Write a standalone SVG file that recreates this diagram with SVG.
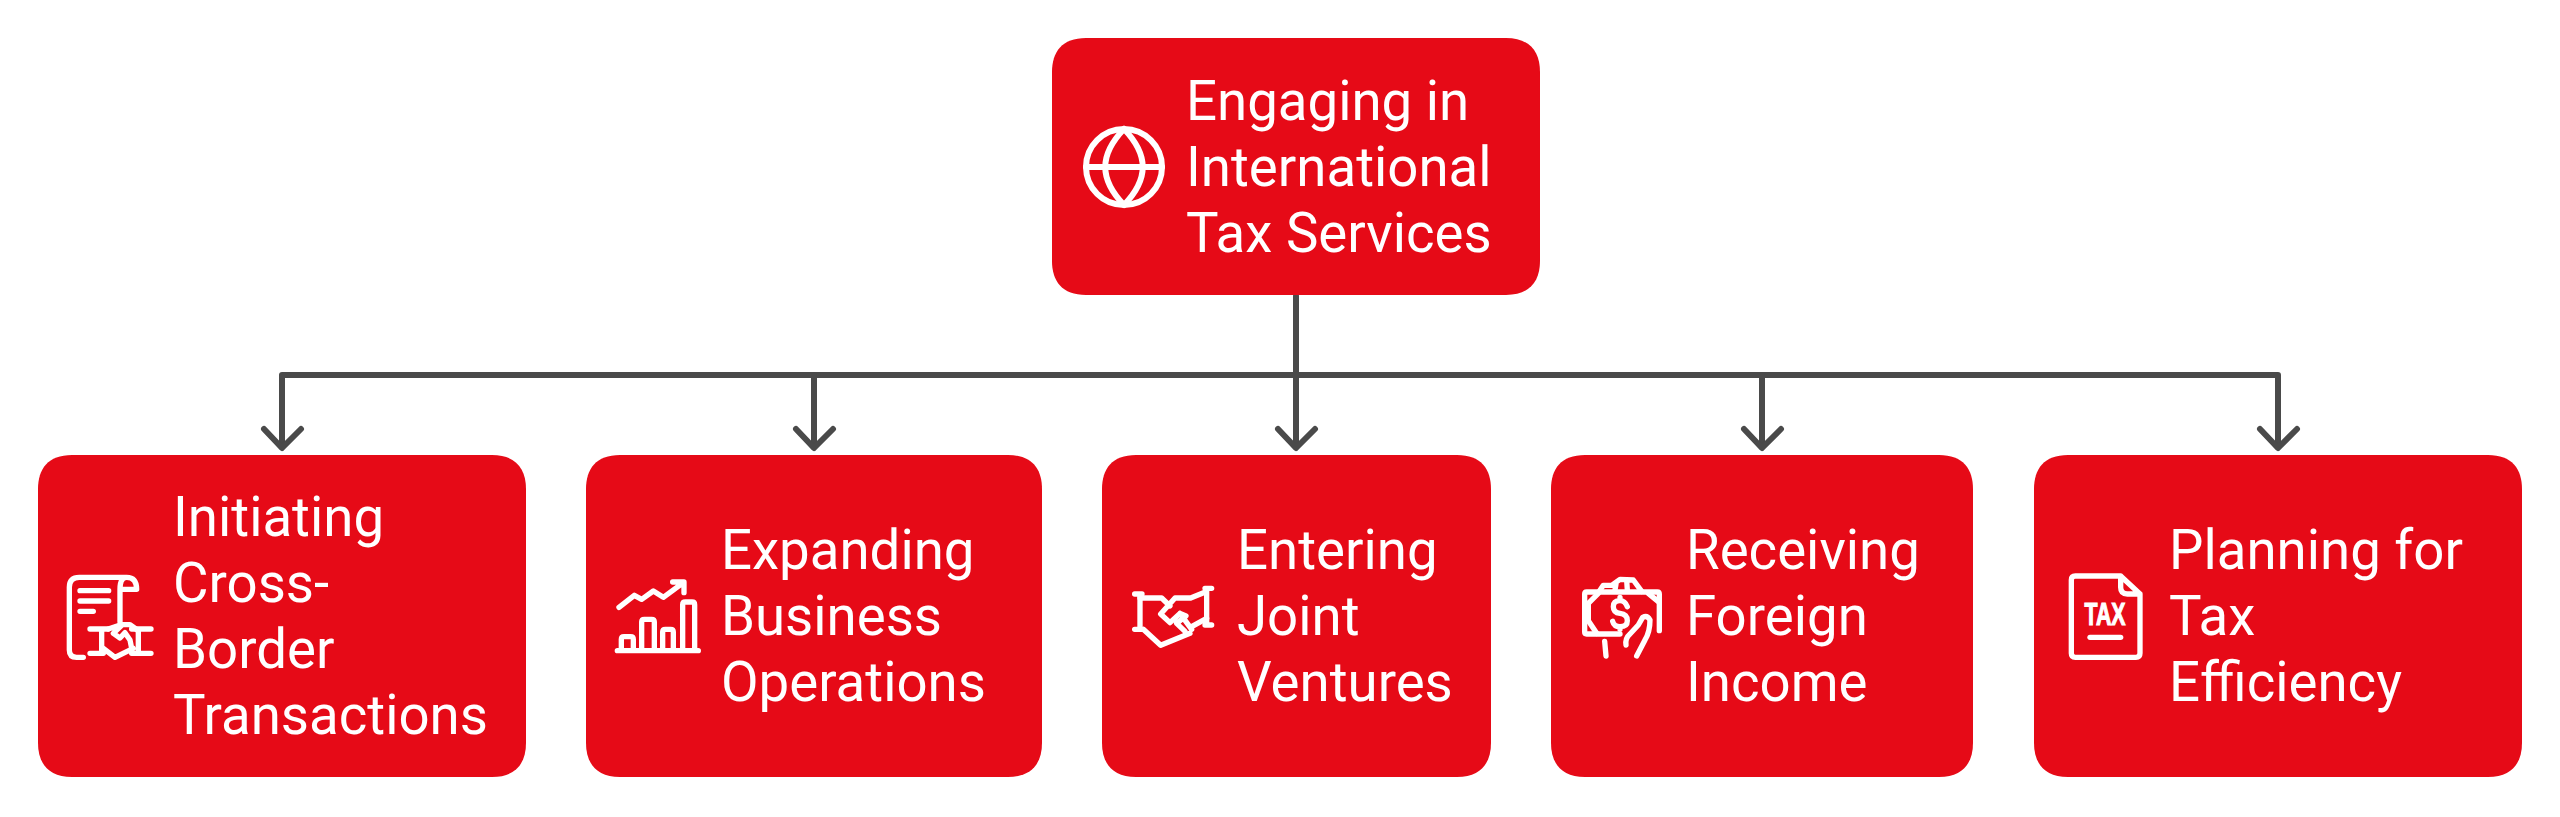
<svg xmlns="http://www.w3.org/2000/svg" width="2560" height="817" viewBox="0 0 2560 817">
<style>
.box{fill:#e60a17}
.t{font-family:Roboto,"Liberation Sans",sans-serif;font-size:54.6px;fill:#fff}
.i{fill:none;stroke:#fff;stroke-linecap:round;stroke-linejoin:round}
.c{fill:none;stroke:#4a4a4a;stroke-width:6;stroke-linecap:round;stroke-linejoin:round}
</style>
<rect width="2560" height="817" fill="#fff"/>
<g id="connectors" class="c">
<path d="M1296 296V375"/>
<path d="M282 447V375H2278V447"/>
<path d="M814 375V447M1296 375V447M1762 375V447"/>
<path d="M264 429L282 448L301 429M796 429L814 448L833 429M1278 429L1296 448L1315 429M1744 429L1762 448L1781 429M2260 429L2278 448L2297 429"/>
</g>
<g id="node-top">
<path class="box" d="M1086 38H1506C1530 38 1540 52 1540 72V261C1540 281 1530 295 1506 295H1086C1062 295 1052 281 1052 261V72C1052 52 1062 38 1086 38Z"/>
<g class="i" stroke-width="6"><circle cx="1124" cy="167" r="38"/><path d="M1086 167H1162M1124 129C1099 155 1099 179 1124 205C1149 179 1149 155 1124 129"/></g>
<text class="t" x="1186" y="120">Engaging in</text><text class="t" x="1186" y="186">International</text><text class="t" x="1186" y="252">Tax Services</text>
</g>
<g id="node-1">
<path class="box" d="M72 455H492C516 455 526 469 526 489V743C526 763 516 777 492 777H72C48 777 38 763 38 743V489C38 469 48 455 72 455Z"/>
<g class="i" transform="translate(50 550) scale(.3333)" stroke-width="16">
<path d="M100 322H80Q58 322 58 300V112Q58 82 88 82H230Q260 82 260 118H210V215M210 118Q210 82 230 82"/>
<path d="M90 122H176M90 153H176M90 184H130"/>
<path d="M120 237H175M120 310H160M155 237V310M245 237H303M245 310H303M265 237V310"/>
<path d="M175 237L215 224H240L262 240M160 295L195 322L250 295M215 226L190 250L210 264L225 248L240 270L245 295"/>
</g>
<text class="t" x="173" y="536">Initiating</text><text class="t" x="173" y="602">Cross-</text><text class="t" x="173" y="668">Border</text><text class="t" x="173" y="734">Transactions</text>
</g>
<g id="node-2">
<path class="box" d="M620 455H1008C1032 455 1042 469 1042 489V743C1042 763 1032 777 1008 777H620C596 777 586 763 586 743V489C586 469 596 455 620 455Z"/>
<g class="i" transform="translate(600 560) scale(.3333)" stroke-width="16">
<path d="M57 142L103 106L125 118L160 93L190 112L250 68M218 66H252V98"/>
<path d="M52 272H295M64 272V238Q64 230 72 230H92Q100 230 100 238V272M125 272V186Q125 178 133 178H155Q163 178 163 186V272M188 272V216Q188 208 196 208H212Q220 208 220 216V272M248 272V134Q248 126 256 126H276Q284 126 284 134V272"/>
</g>
<text class="t" x="721" y="569">Expanding</text><text class="t" x="721" y="635">Business</text><text class="t" x="721" y="701">Operations</text>
</g>
<g id="node-3">
<path class="box" d="M1136 455H1457C1481 455 1491 469 1491 489V743C1491 763 1481 777 1457 777H1136C1112 777 1102 763 1102 743V489C1102 469 1112 455 1136 455Z"/>
<g class="i" transform="translate(1120 570) scale(.3333)" stroke-width="16">
<path d="M44 72H66M44 178H68M60 72V178M255 55H275M255 165H275M260 55V165"/>
<path d="M60 84H125L150 108M258 65L212 84H165L122 132L150 158L180 130L215 178M260 145L215 170M70 178L122 226L210 190M180 130L198 138L170 160L195 184"/>
</g>
<text class="t" x="1237" y="569">Entering</text><text class="t" x="1237" y="635">Joint</text><text class="t" x="1237" y="701">Ventures</text>
</g>
<g id="node-4">
<path class="box" d="M1585 455H1939C1963 455 1973 469 1973 489V743C1973 763 1963 777 1939 777H1585C1561 777 1551 763 1551 743V489C1551 469 1561 455 1585 455Z"/>
<g class="i" transform="translate(1570 560) scale(.3333)" stroke-width="16">
<path d="M150 222H50Q44 222 44 216V102Q44 96 50 96H262Q268 96 268 102V212"/>
<path d="M85 100L55 130V182L80 220M235 100L265 125M88 94L100 76H125L150 58L190 60L215 94M135 90L138 72M172 90L170 60"/>
<path d="M172 140Q165 122 150 122Q130 122 130 140Q130 158 150 160Q172 162 172 182Q172 200 150 200Q132 200 128 184M150 112V122M150 200V208"/>
<path d="M168 255Q165 235 180 222L205 195L218 172Q232 165 240 180Q240 215 225 240L200 288M104 244L108 288"/>
</g>
<text class="t" x="1686" y="569">Receiving</text><text class="t" x="1686" y="635">Foreign</text><text class="t" x="1686" y="701">Income</text>
</g>
<g id="node-5">
<path class="box" d="M2068 455H2488C2512 455 2522 469 2522 489V743C2522 763 2512 777 2488 777H2068C2044 777 2034 763 2034 743V489C2034 469 2044 455 2068 455Z"/>
<g class="i" transform="translate(2050 560) scale(.3333)" stroke-width="16">
<path d="M212 48H76Q64 48 64 60V280Q64 292 76 292H258Q270 292 270 280V102L212 48V82Q212 102 232 102H270"/>
<path d="M120 232H212"/>
</g>
<text x="2105" y="625" font-family="'Liberation Sans',sans-serif" font-weight="700" font-size="32" fill="#fff" stroke="#fff" stroke-width="1.2" text-anchor="middle" textLength="41" lengthAdjust="spacingAndGlyphs">TAX</text>
<text class="t" x="2169" y="569">Planning for</text><text class="t" x="2169" y="635">Tax</text><text class="t" x="2169" y="701">Efficiency</text>
</g>
</svg>
